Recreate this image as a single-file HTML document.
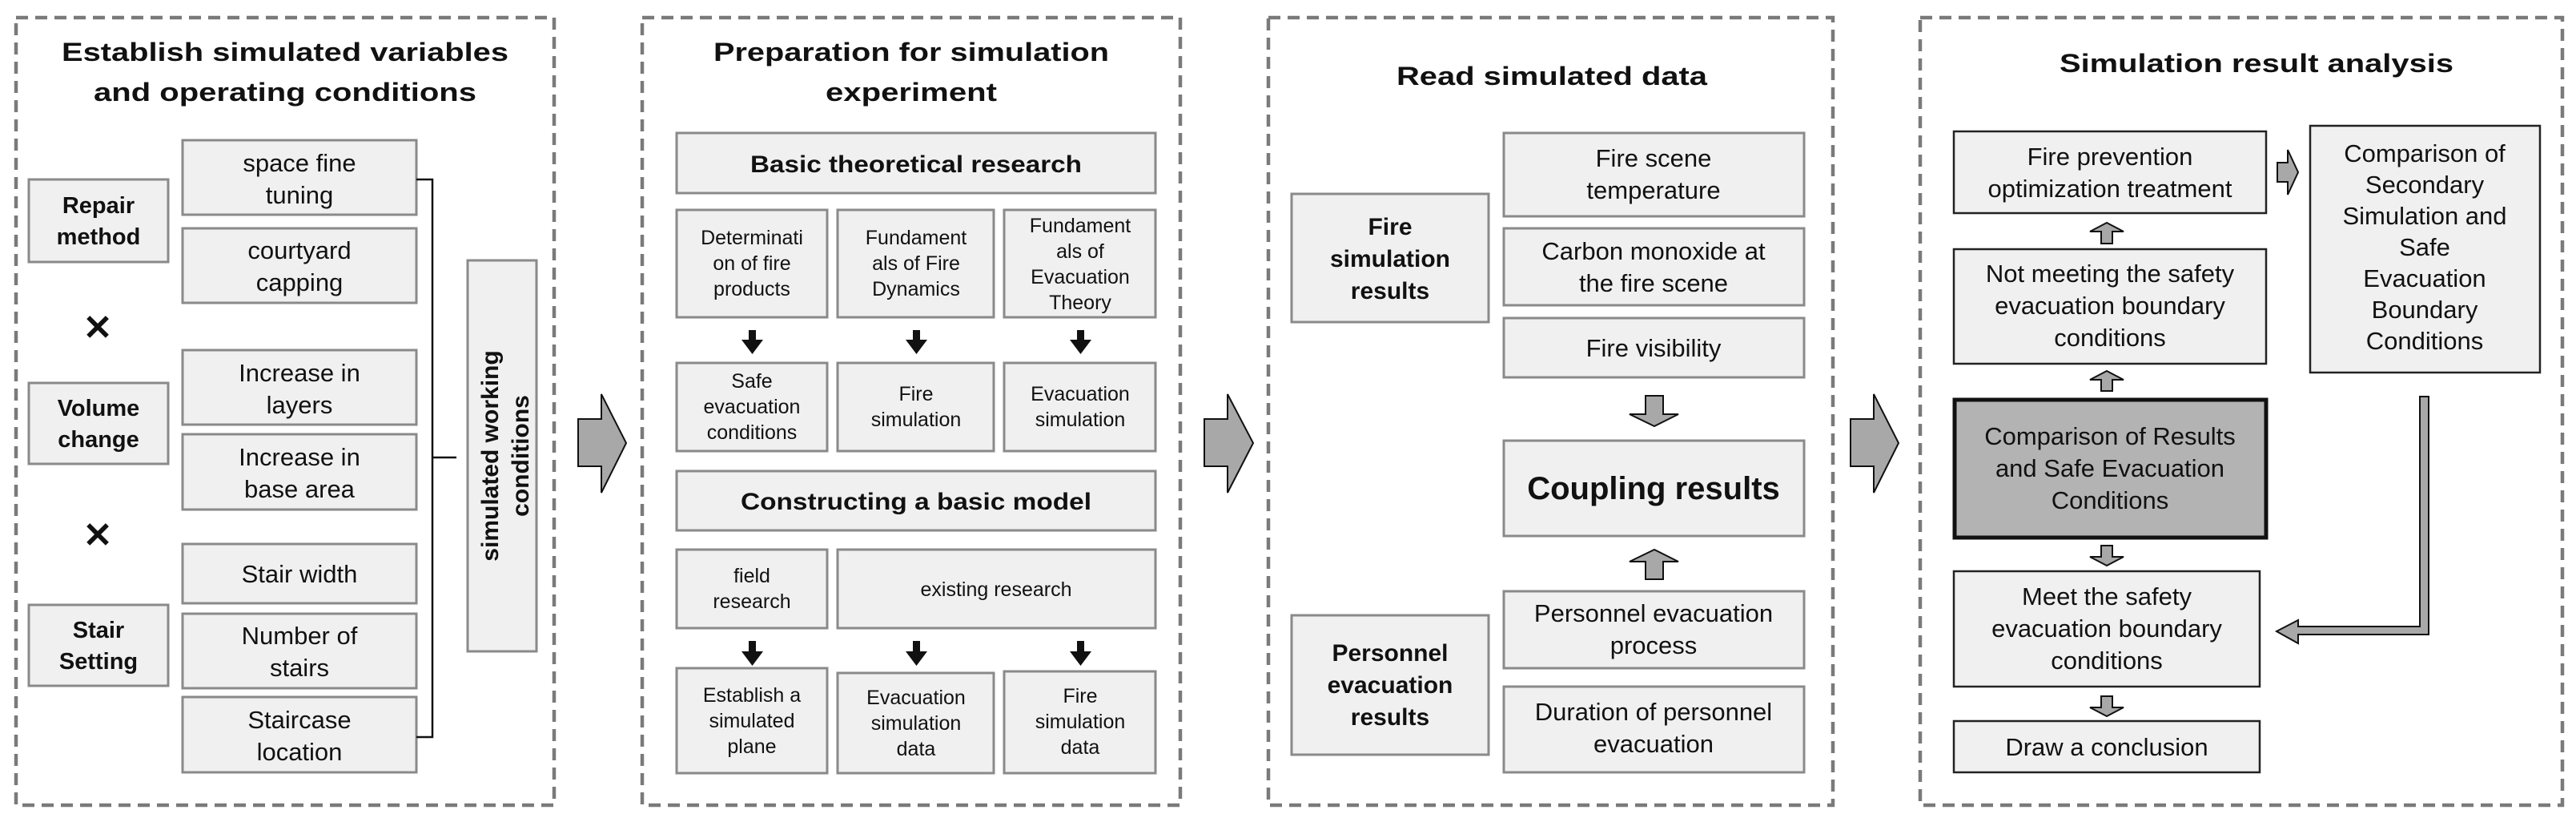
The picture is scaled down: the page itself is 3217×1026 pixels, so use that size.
<!DOCTYPE html>
<html><head><meta charset="utf-8"><style>
html,body{margin:0;padding:0;background:#fff;}
svg{display:block;}
text{font-family:"Liberation Sans",Arial,sans-serif;fill:#111;}
.b{font-weight:bold;}
</style></head><body>
<svg width="3217" height="1026" viewBox="0 0 3217 1026" xmlns="http://www.w3.org/2000/svg">
<defs>
<style>
.box{fill:#f0f0f0;stroke:#8a8a8a;stroke-width:3;}
.boxd{fill:#f0f0f0;stroke:#222;stroke-width:2.5;}
.dash{fill:none;stroke:#7a7a7a;stroke-width:4.5;stroke-dasharray:15 9;}
.garr{fill:#a8a8a8;stroke:#111;stroke-width:2;}
</style>
</defs>

<!-- Panels -->
<rect class="dash" x="20" y="22" width="672" height="983"/>
<rect class="dash" x="802" y="22" width="672" height="983"/>
<rect class="dash" x="1584" y="22" width="705" height="983"/>
<rect class="dash" x="2398" y="22" width="802" height="983"/>

<!-- Big arrows between panels -->
<polygon class="garr" points="722,523 751,523 751,492 782,553 751,615 751,582 722,582"/>
<polygon class="garr" points="1504,523 1533,523 1533,492 1565,553 1533,615 1533,582 1504,582"/>
<polygon class="garr" points="2311,523 2340,523 2340,492 2371,553 2340,615 2340,582 2311,582"/>

<!-- ===== Panel 1 ===== -->
<text class="b" x="356" y="76" font-size="32" text-anchor="middle" textLength="558" lengthAdjust="spacingAndGlyphs">Establish simulated variables</text>
<text class="b" x="356" y="126" font-size="32" text-anchor="middle" textLength="478" lengthAdjust="spacingAndGlyphs">and operating conditions</text>

<rect class="box" x="36" y="224" width="174" height="103"/>
<text class="b" font-size="29" text-anchor="middle"><tspan x="123" y="266">Repair</tspan><tspan x="123" y="305">method</tspan></text>
<rect class="box" x="36" y="478" width="174" height="101"/>
<text class="b" font-size="29" text-anchor="middle"><tspan x="123" y="519">Volume</tspan><tspan x="123" y="558">change</tspan></text>
<rect class="box" x="36" y="755" width="174" height="101"/>
<text class="b" font-size="29" text-anchor="middle"><tspan x="123" y="796">Stair</tspan><tspan x="123" y="835">Setting</tspan></text>

<text class="b" x="122" y="424" font-size="44" text-anchor="middle">✕</text>
<text class="b" x="122" y="683" font-size="44" text-anchor="middle">✕</text>

<g font-size="31" text-anchor="middle">
<rect class="box" x="228" y="175" width="292" height="93"/>
<text><tspan x="374" y="214">space fine</tspan><tspan x="374" y="254">tuning</tspan></text>
<rect class="box" x="228" y="285" width="292" height="93"/>
<text><tspan x="374" y="323">courtyard</tspan><tspan x="374" y="363">capping</tspan></text>
<rect class="box" x="228" y="437" width="292" height="93"/>
<text><tspan x="374" y="476">Increase in</tspan><tspan x="374" y="516">layers</tspan></text>
<rect class="box" x="228" y="542" width="292" height="94"/>
<text><tspan x="374" y="581">Increase in</tspan><tspan x="374" y="621">base area</tspan></text>
<rect class="box" x="228" y="679" width="292" height="74"/>
<text x="374" y="727">Stair width</text>
<rect class="box" x="228" y="766" width="292" height="93"/>
<text><tspan x="374" y="804">Number of</tspan><tspan x="374" y="844">stairs</tspan></text>
<rect class="box" x="228" y="870" width="292" height="94"/>
<text><tspan x="374" y="909">Staircase</tspan><tspan x="374" y="949">location</tspan></text>
</g>

<polyline points="520,224 540,224 540,920 520,920" fill="none" stroke="#111" stroke-width="2.5"/>
<line x1="540" y1="571" x2="570" y2="571" stroke="#111" stroke-width="2.5"/>

<rect class="box" x="584" y="325" width="86" height="488"/>
<g transform="translate(627,569) rotate(-90)">
<text class="b" font-size="30" text-anchor="middle"><tspan x="0" y="-5">simulated working</tspan><tspan x="0" y="33">conditions</tspan></text>
</g>

<!-- ===== Panel 2 ===== -->
<text class="b" x="1138" y="76" font-size="32" text-anchor="middle" textLength="494" lengthAdjust="spacingAndGlyphs">Preparation for simulation</text>
<text class="b" x="1138" y="126" font-size="32" text-anchor="middle" textLength="214" lengthAdjust="spacingAndGlyphs">experiment</text>

<rect class="box" x="845" y="166" width="598" height="75"/>
<text class="b" x="1144" y="215" font-size="30" text-anchor="middle" textLength="414" lengthAdjust="spacingAndGlyphs">Basic theoretical research</text>

<g font-size="25" text-anchor="middle">
<rect class="box" x="845" y="262" width="188" height="134"/>
<text><tspan x="939" y="305">Determinati</tspan><tspan x="939" y="337">on of fire</tspan><tspan x="939" y="369">products</tspan></text>
<rect class="box" x="1046" y="262" width="195" height="134"/>
<text><tspan x="1144" y="305">Fundament</tspan><tspan x="1144" y="337">als of Fire</tspan><tspan x="1144" y="369">Dynamics</tspan></text>
<rect class="box" x="1254" y="262" width="189" height="134"/>
<text><tspan x="1349" y="290">Fundament</tspan><tspan x="1349" y="322">als of</tspan><tspan x="1349" y="354">Evacuation</tspan><tspan x="1349" y="386">Theory</tspan></text>

<rect class="box" x="845" y="453" width="188" height="110"/>
<text><tspan x="939" y="484">Safe</tspan><tspan x="939" y="516">evacuation</tspan><tspan x="939" y="548">conditions</tspan></text>
<rect class="box" x="1046" y="453" width="195" height="110"/>
<text><tspan x="1144" y="500">Fire</tspan><tspan x="1144" y="532">simulation</tspan></text>
<rect class="box" x="1254" y="453" width="189" height="110"/>
<text><tspan x="1349" y="500">Evacuation</tspan><tspan x="1349" y="532">simulation</tspan></text>
</g>

<rect class="box" x="845" y="588" width="598" height="74"/>
<text class="b" x="1144" y="636" font-size="30" text-anchor="middle" textLength="438" lengthAdjust="spacingAndGlyphs">Constructing a basic model</text>

<g font-size="25" text-anchor="middle">
<rect class="box" x="845" y="686" width="188" height="98"/>
<text><tspan x="939" y="727">field</tspan><tspan x="939" y="759">research</tspan></text>
<rect class="box" x="1046" y="686" width="397" height="98"/>
<text x="1244" y="744">existing research</text>

<rect class="box" x="845" y="834" width="188" height="131"/>
<text><tspan x="939" y="876">Establish a</tspan><tspan x="939" y="908">simulated</tspan><tspan x="939" y="940">plane</tspan></text>
<rect class="box" x="1046" y="840" width="195" height="125"/>
<text><tspan x="1144" y="879">Evacuation</tspan><tspan x="1144" y="911">simulation</tspan><tspan x="1144" y="943">data</tspan></text>
<rect class="box" x="1254" y="838" width="189" height="127"/>
<text><tspan x="1349" y="877">Fire</tspan><tspan x="1349" y="909">simulation</tspan><tspan x="1349" y="941">data</tspan></text>
</g>

<!-- black down arrows -->
<g fill="#111">
<polygon points="935,412 944,412 944,424 953,424 939.5,442 926,424 935,424"/>
<polygon points="1140,412 1149,412 1149,424 1158,424 1144.5,442 1131,424 1140,424"/>
<polygon points="1345,412 1354,412 1354,424 1363,424 1349.5,442 1336,424 1345,424"/>
<polygon points="935,800 944,800 944,813 953,813 939.5,831 926,813 935,813"/>
<polygon points="1140,800 1149,800 1149,813 1158,813 1144.5,831 1131,813 1140,813"/>
<polygon points="1345,800 1354,800 1354,813 1363,813 1349.5,831 1336,813 1345,813"/>
</g>

<!-- ===== Panel 3 ===== -->
<text class="b" x="1938" y="106" font-size="32" text-anchor="middle" textLength="388" lengthAdjust="spacingAndGlyphs">Read simulated data</text>

<rect class="box" x="1613" y="242" width="246" height="160"/>
<text class="b" font-size="30" text-anchor="middle"><tspan x="1736" y="293">Fire</tspan><tspan x="1736" y="333">simulation</tspan><tspan x="1736" y="373">results</tspan></text>
<rect class="box" x="1613" y="768" width="246" height="174"/>
<text class="b" font-size="30" text-anchor="middle"><tspan x="1736" y="825">Personnel</tspan><tspan x="1736" y="865">evacuation</tspan><tspan x="1736" y="905">results</tspan></text>

<g font-size="31" text-anchor="middle">
<rect class="box" x="1878" y="166" width="375" height="104"/>
<text><tspan x="2065" y="208">Fire scene</tspan><tspan x="2065" y="248">temperature</tspan></text>
<rect class="box" x="1878" y="285" width="375" height="96"/>
<text><tspan x="2065" y="324">Carbon monoxide at</tspan><tspan x="2065" y="364">the fire scene</tspan></text>
<rect class="box" x="1878" y="397" width="375" height="74"/>
<text x="2065" y="445">Fire visibility</text>
<rect class="box" x="1878" y="738" width="375" height="96"/>
<text><tspan x="2065" y="776">Personnel evacuation</tspan><tspan x="2065" y="816">process</tspan></text>
<rect class="box" x="1878" y="857" width="375" height="107"/>
<text><tspan x="2065" y="899">Duration of personnel</tspan><tspan x="2065" y="939">evacuation</tspan></text>
</g>
<rect class="box" x="1878" y="550" width="375" height="119"/>
<text class="b" x="2065" y="623" font-size="40" text-anchor="middle">Coupling results</text>

<polygon class="garr" points="2055,494 2077,494 2077,517 2096,517 2066,532 2035,517 2055,517"/>
<polygon class="garr" points="2055,723 2077,723 2077,701 2096,701 2066,686 2035,701 2055,701"/>

<!-- ===== Panel 4 ===== -->
<text class="b" x="2818" y="90" font-size="32" text-anchor="middle" textLength="492" lengthAdjust="spacingAndGlyphs">Simulation result analysis</text>

<g font-size="31" text-anchor="middle">
<rect class="boxd" x="2440" y="164" width="390" height="102"/>
<text><tspan x="2635" y="206">Fire prevention</tspan><tspan x="2635" y="246">optimization treatment</tspan></text>
<rect class="boxd" x="2440" y="311" width="390" height="143"/>
<text><tspan x="2635" y="352">Not meeting the safety</tspan><tspan x="2635" y="392">evacuation boundary</tspan><tspan x="2635" y="432">conditions</tspan></text>
<rect x="2441" y="499" width="389" height="172" fill="#b3b3b3" stroke="#111" stroke-width="5"/>
<text><tspan x="2635" y="555">Comparison of Results</tspan><tspan x="2635" y="595">and Safe Evacuation</tspan><tspan x="2635" y="635">Conditions</tspan></text>
<rect class="boxd" x="2440" y="713" width="382" height="144"/>
<text><tspan x="2631" y="755">Meet the safety</tspan><tspan x="2631" y="795">evacuation boundary</tspan><tspan x="2631" y="835">conditions</tspan></text>
<rect class="boxd" x="2440" y="900" width="382" height="64"/>
<text x="2631" y="943">Draw a conclusion</text>
<rect class="boxd" x="2885" y="157" width="287" height="308"/>
<text><tspan x="3028" y="202">Comparison of</tspan><tspan x="3028" y="241">Secondary</tspan><tspan x="3028" y="280">Simulation and</tspan><tspan x="3028" y="319">Safe</tspan><tspan x="3028" y="358">Evacuation</tspan><tspan x="3028" y="397">Boundary</tspan><tspan x="3028" y="436">Conditions</tspan></text>
</g>

<!-- small hollow arrows -->
<polygon class="garr" points="2624,304 2638,304 2638,289 2652,289 2631,278 2610,289 2624,289"/>
<polygon class="garr" points="2624,488 2638,488 2638,474 2652,474 2631,463 2610,474 2624,474"/>
<polygon class="garr" points="2624,681 2638,681 2638,695 2652,695 2631,706 2610,695 2624,695"/>
<polygon class="garr" points="2624,869 2638,869 2638,883 2652,883 2631,894 2610,883 2624,883"/>
<polygon class="garr" points="2844,203 2857,203 2857,187 2870,215 2857,243 2857,227 2844,227"/>

<!-- L connector -->
<polygon class="garr" points="3022,495 3033,495 3033,792 2870,792 2870,803 2843,788 2870,774 2870,782 3022,782"/>
</svg>
</body></html>
